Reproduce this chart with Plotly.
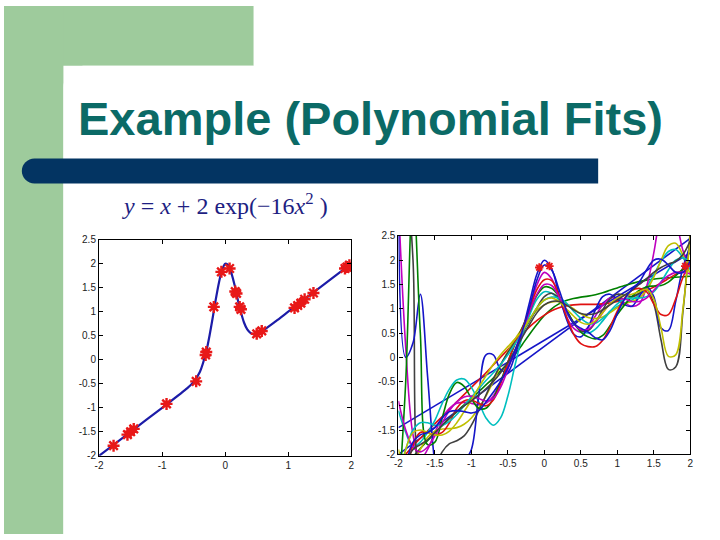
import plotly.graph_objects as go

W, H = 720, 540

# ---------------- data: left panel ----------------
true_x = [-2, -1.5, -1, -0.6, -0.5, -0.4, -0.3, -0.25, -0.2, -0.15, -0.1, -0.05, 0,
          0.05, 0.1, 0.15, 0.2, 0.25, 0.3, 0.35, 0.4, 0.45, 0.5, 0.6, 0.8, 1, 1.5, 2]
true_y = [-2, -1.5, -1, -0.59, -0.46, -0.25, 0.17, 0.49, 0.86, 1.25, 1.60, 1.87, 2.0,
          1.97, 1.80, 1.55, 1.25, 0.99, 0.77, 0.63, 0.56, 0.53, 0.54, 0.61, 0.80, 1.0, 1.5, 2.0]

sample_x = [-1.77, -1.55, -1.50, -1.45, -0.93, -0.46, -0.31, -0.30, -0.18, -0.06, 0.07, 0.16,
            0.18, 0.23, 0.25, 0.50, 0.58, 1.10, 1.15, 1.20, 1.26, 1.40, 1.90, 1.93, 1.97]
sample_y = [-1.79, -1.56, -1.50, -1.44, -0.92, -0.45, 0.10, 0.16, 1.10, 1.83, 1.90, 1.42,
            1.38, 1.10, 1.05, 0.54, 0.60, 1.08, 1.13, 1.18, 1.26, 1.39, 1.90, 1.93, 1.97]

# ---------------- data: right panel ----------------
line_x = [-2, 2]
line_a_y = [-1.45, 2.15]
line_b_y = [-2.0, 2.45]

fit_x = [-2.0, -1.9, -1.8, -1.7, -1.6, -1.5, -1.4, -1.3, -1.2, -1.1, -1.0, -0.9, -0.8, -0.7,
         -0.6, -0.5, -0.4, -0.3, -0.2, -0.1, 0.0, 0.1, 0.2, 0.3, 0.4, 0.5, 0.6, 0.7, 0.8, 0.9,
         1.0, 1.1, 1.2, 1.3, 1.4, 1.5, 1.6, 1.7, 1.8, 1.9, 2.0]

fit_green_1 = [-2.40, -2.22, -2.05, -1.88, -1.72, -1.56, -1.41, -1.26, -1.12, -0.98, -0.85, -0.71,
               -0.57, -0.43, -0.28, -0.12, 0.06, 0.27, 0.48, 0.68, 0.86, 1.00, 1.10, 1.17, 1.21,
               1.24, 1.26, 1.29, 1.33, 1.38, 1.43, 1.48, 1.52, 1.56, 1.59, 1.61, 1.63, 1.64, 1.65,
               1.66, 1.67]
fit_red_1 = [-2.20, -2.00, -1.83, -1.67, -1.52, -1.37, -1.22, -1.07, -0.92, -0.77, -0.62, -0.47,
             -0.32, -0.16, 0.00, 0.16, 0.32, 0.48, 0.63, 0.76, 0.87, 0.96, 1.02, 1.06, 1.08, 1.09,
             1.09, 1.09, 1.10, 1.12, 1.15, 1.19, 1.24, 1.30, 1.37, 1.45, 1.53, 1.62, 1.71, 1.80, 1.90]
fit_cyan_1 = [-1.10, -1.55, -1.85, -1.75, -1.55, -1.30, -0.95, -0.65, -0.47, -0.45, -0.62, -0.92,
              -1.25, -1.40, -1.25, -0.80, -0.15, 0.45, 0.88, 1.20, 1.35, 1.32, 1.18, 0.92, 0.70,
              0.55, 0.50, 0.58, 0.75, 0.93, 1.05, 1.12, 1.18, 1.28, 1.45, 1.70, 1.98, 2.18, 2.22,
              2.05, 1.80]
fit_magenta_1 = [3.20, 0.20, -1.60, -2.10, -1.90, -1.55, -1.25, -1.05, -0.95, -0.93, -0.95, -0.98,
                 -0.95, -0.80, -0.50, -0.18, 0.12, 0.52, 1.00, 1.50, 1.75, 1.62, 1.25, 0.85, 0.60,
                 0.52, 0.62, 0.85, 1.08, 1.22, 1.22, 1.12, 1.05, 1.10, 1.45, 2.15, 3.00, 3.40,
                 2.90, 2.20, 1.85]
fit_yellow_1 = [-1.90, -2.30, -2.20, -1.90, -1.65, -1.52, -1.48, -1.47, -1.45, -1.38, -1.25, -1.05,
                -0.80, -0.50, -0.18, 0.12, 0.38, 0.60, 0.80, 0.97, 1.08, 1.14, 1.15, 1.10, 1.00,
                0.90, 0.82, 0.80, 0.83, 0.92, 1.02, 1.10, 1.15, 1.22, 1.38, 1.65, 2.00, 2.30, 2.35,
                2.10, 1.70]
fit_gray_1 = [5.00, 4.00, 2.00, -2.60, -2.80, -2.30, -1.95, -1.78, -1.72, -1.62, -1.40, -1.10,
              -0.78, -0.45, -0.15, 0.10, 0.32, 0.52, 0.75, 1.02, 1.25, 1.32, 1.22, 0.98, 0.72,
              0.55, 0.55, 0.72, 0.98, 1.20, 1.30, 1.28, 1.25, 1.32, 1.40, 1.10, 0.35, -0.25, -0.20,
              0.95, 2.60]
fit_blue_2 = [3.50, 0.00, 0.30, 1.30, -0.40, -2.20, -3.00, -2.80, -2.30, -2.15, -1.90, -0.80,
              0.05, 0.05, -0.25, -0.30, 0.05, 0.55, 1.15, 1.72, 2.00, 1.82, 1.30, 0.80, 0.48,
              0.42, 0.62, 0.98, 1.25, 1.30, 1.20, 1.08, 1.05, 1.25, 1.45, 1.25, 0.60, 0.55, 1.15,
              1.85, 2.30]
fit_green_2 = [-3.00, -0.50, 3.50, 0.50, -1.80, -1.75, -1.25, -0.75, -0.52, -0.60, -0.85, -1.05,
               -1.05, -0.85, -0.50, -0.10, 0.28, 0.62, 0.95, 1.28, 1.45, 1.42, 1.25, 0.98, 0.72,
               0.52, 0.42, 0.38, 0.45, 0.65, 0.88, 1.08, 1.25, 1.38, 1.45, 1.47, 1.48, 1.55, 1.68,
               1.82, 1.95]
fit_red_2 = [-4.00, -2.60, -1.80, -1.55, -1.55, -1.60, -1.55, -1.35, -1.05, -0.90, -0.88, -0.95,
             -1.00, -0.88, -0.55, -0.10, 0.30, 0.60, 1.00, 1.40, 1.60, 1.58, 1.28, 0.85, 0.48,
             0.28, 0.22, 0.22, 0.35, 0.62, 0.95, 1.22, 1.38, 1.42, 1.35, 1.10, 0.88, 0.88, 1.20,
             1.65, 1.95]
fit_cyan_2 = [-2.50, -1.90, -1.50, -1.35, -1.35, -1.40, -1.40, -1.32, -1.18, -1.00, -0.82, -0.65,
              -0.48, -0.32, -0.15, 0.05, 0.28, 0.52, 0.78, 1.02, 1.18, 1.24, 1.22, 1.12, 0.95,
              0.80, 0.70, 0.70, 0.80, 0.95, 1.10, 1.20, 1.22, 1.22, 1.25, 1.35, 1.55, 1.80, 2.00,
              2.05, 1.95]
fit_magenta_2 = [-0.90, -1.50, -1.85, -1.95, -1.85, -1.62, -1.35, -1.10, -0.92, -0.82, -0.80, -0.85,
                 -0.90, -0.85, -0.62, -0.25, 0.15, 0.55, 0.95, 1.30, 1.50, 1.48, 1.25, 0.95, 0.70,
                 0.57, 0.58, 0.72, 0.92, 1.10, 1.20, 1.20, 1.15, 1.15, 1.22, 1.38, 1.55, 1.68, 1.75,
                 1.75, 1.72]
fit_yellow_2 = [-2.80, -1.90, -1.55, -1.50, -1.55, -1.60, -1.60, -1.52, -1.35, -1.12, -0.88, -0.62,
                -0.38, -0.15, 0.05, 0.22, 0.38, 0.55, 0.78, 1.02, 1.18, 1.22, 1.15, 1.00, 0.85,
                0.72, 0.68, 0.75, 0.92, 1.10, 1.22, 1.28, 1.30, 1.35, 1.40, 1.20, 0.60, 0.02, 0.05,
                1.00, 2.50]
fit_gray_2 = [-3.00, -2.20, -1.90, -1.80, -1.70, -1.55, -1.40, -1.25, -1.12, -1.00, -0.90, -0.78,
              -0.65, -0.50, -0.32, -0.10, 0.15, 0.42, 0.68, 0.92, 1.08, 1.15, 1.15, 1.08, 0.98,
              0.90, 0.88, 0.90, 0.98, 1.08, 1.18, 1.28, 1.38, 1.50, 1.62, 1.75, 1.85, 1.92, 1.98,
              2.12, 2.40]
fit_blue_3 = [-2.60, -2.20, -1.75, -1.60, -1.55, -1.45, -1.25, -1.12, -1.10, -1.12, -1.15, -1.10,
              -0.92, -0.72, -0.50, -0.22, 0.15, 0.55, 1.05, 1.60, 1.90, 1.80, 1.40, 0.98, 0.70,
              0.60, 0.52, 0.40, 0.36, 0.55, 0.90, 1.20, 1.40, 1.55, 1.80, 2.00, 2.02, 1.90, 1.75,
              1.75, 2.00]

right_star_x = [-0.07, 0.07, 1.93]
right_star_y = [1.85, 1.88, 1.88]

y_ticks = [2.5, 2, 1.5, 1, 0.5, 0, -0.5, -1, -1.5, -2]
y_tick_text = ["2.5", "2", "1.5", "1", "0.5", "0", "-0.5", "-1", "-1.5", "-2"]
xl_ticks = [-2, -1, 0, 1, 2]
xl_tick_text = ["-2", "-1", "0", "1", "2"]
xr_ticks = [-2, -1.5, -1, -0.5, 0, 0.5, 1, 1.5, 2]
xr_tick_text = ["-2", "-1.5", "-1", "-0.5", "0", "0.5", "1", "1.5", "2"]

# ---------------- colours ----------------
BLUE = "#1515c8"
GREEN = "#008000"
RED = "#e01010"
CYAN = "#00bfbf"
MAGENTA = "#bf00bf"
YELLOW = "#bfbf00"
GRAY = "#404040"

fig = go.Figure()

# left panel
fig.add_trace(go.Scatter(x=true_x, y=true_y, mode="lines", xaxis="x", yaxis="y",
                         line=dict(color="#1c1ca8", width=2.2, shape="spline", smoothing=0.7),
                         showlegend=False, hoverinfo="skip"))
fig.add_trace(go.Scatter(x=sample_x, y=sample_y, mode="markers", xaxis="x", yaxis="y",
                         marker=dict(symbol="asterisk-open", size=10, color="#e81818",
                                     line=dict(color="#e81818", width=2.4)),
                         showlegend=False, hoverinfo="skip"))

# right panel
fits = [
    (fit_green_1, GREEN), (fit_red_1, RED), (fit_cyan_1, CYAN), (fit_magenta_1, MAGENTA),
    (fit_yellow_1, YELLOW), (fit_gray_1, GRAY), (fit_blue_2, BLUE), (fit_green_2, GREEN),
    (fit_red_2, RED), (fit_cyan_2, CYAN), (fit_magenta_2, MAGENTA), (fit_yellow_2, YELLOW),
    (fit_gray_2, GRAY), (fit_blue_3, BLUE),
]
for ys, col in [(line_a_y, BLUE), (line_b_y, BLUE)]:
    fig.add_trace(go.Scatter(x=line_x, y=ys, mode="lines", xaxis="x2", yaxis="y2",
                             line=dict(color=col, width=1.6), showlegend=False, hoverinfo="skip"))
for ys, col in fits:
    fig.add_trace(go.Scatter(x=fit_x, y=ys, mode="lines", xaxis="x2", yaxis="y2",
                             line=dict(color=col, width=1.6, shape="spline", smoothing=1.0),
                             showlegend=False, hoverinfo="skip"))
fig.add_trace(go.Scatter(x=right_star_x, y=right_star_y, mode="markers", xaxis="x2", yaxis="y2",
                         marker=dict(symbol="asterisk-open", size=7, color="#e81818",
                                     line=dict(color="#e81818", width=1.8)),
                         showlegend=False, hoverinfo="skip"))


def px(x):
    return x / W


def py(y):
    return 1 - y / H


axis_common = dict(showline=True, linecolor="black", linewidth=1.2, mirror="ticks",
                   ticks="inside", ticklen=4, tickcolor="black", showgrid=False,
                   zeroline=False, tickfont=dict(family="Liberation Sans, Arial", size=10,
                                                 color="#222222"), fixedrange=True)

fig.update_layout(
    width=W, height=H, margin=dict(l=0, r=0, t=0, b=0),
    paper_bgcolor="white", plot_bgcolor="white",
    xaxis=dict(domain=[px(96), px(350.7)], range=[-2, 2], tickvals=xl_ticks,
               ticktext=xl_tick_text, anchor="y", **axis_common),
    yaxis=dict(domain=[py(460), py(239)], range=[-2, 2.5], tickvals=y_ticks,
               ticktext=y_tick_text, anchor="x", **axis_common),
    xaxis2=dict(domain=[px(398.3), px(693)], range=[-2, 2], tickvals=xr_ticks,
                ticktext=xr_tick_text, anchor="y2", **axis_common),
    yaxis2=dict(domain=[py(458.5), py(235.2)], range=[-2, 2.5], tickvals=y_ticks,
                ticktext=y_tick_text, anchor="x2", **axis_common),
)

GREEN_BG = "#9ecb9c"
shapes = [
    dict(type="rect", xref="paper", yref="paper", x0=0, x1=px(252), y0=py(61), y1=1,
         fillcolor=GREEN_BG, line=dict(width=0), layer="below"),
    dict(type="rect", xref="paper", yref="paper", x0=0, x1=px(60), y0=0, y1=1,
         fillcolor=GREEN_BG, line=dict(width=0), layer="below"),
]
# white panel with rounded top-left corner
r = 22
k = 0.5523 * r
path = (f"M {px(60)},{py(540)} L {px(60)},{py(61 + r)} "
        f"C {px(60)},{py(61 + r - k)} {px(60 + r - k)},{py(61)} {px(60 + r)},{py(61)} "
        f"L {px(252)},{py(61)} L {px(252)},{py(540)} Z")
shapes.append(dict(type="path", xref="paper", yref="paper", path=path,
                   fillcolor="white", line=dict(width=0), layer="below"))
# dark blue bar with rounded left end
t, b = 156, 181.5
rr = (b - t) / 2
kk = 0.5523 * rr
xl = 18
bar = (f"M {px(600)},{py(t)} L {px(xl + rr)},{py(t)} "
       f"C {px(xl + rr - kk)},{py(t)} {px(xl)},{py(t + rr - kk)} {px(xl)},{py(t + rr)} "
       f"C {px(xl)},{py(t + rr + kk)} {px(xl + rr - kk)},{py(b)} {px(xl + rr)},{py(b)} "
       f"L {px(600)},{py(b)} Z")
shapes.append(dict(type="path", xref="paper", yref="paper", path=bar,
                   fillcolor="#033462", line=dict(width=0), layer="below"))
fig.update_layout(shapes=shapes)

fig.add_annotation(x=px(73), y=py(115), xref="paper", yref="paper", xanchor="left",
                   yanchor="middle", showarrow=False,
                   text="<b>Example (Polynomial Fits)</b>",
                   font=dict(family="Liberation Sans, Arial", size=47, color="#0b6a66"))
fig.add_annotation(x=px(117), y=py(203), xref="paper", yref="paper", xanchor="left",
                   yanchor="middle", showarrow=False,
                   text="<i>y</i> = <i>x</i> + 2 exp(\u221216<i>x</i><sup>2</sup> )",
                   font=dict(family="Liberation Serif, Times New Roman", size=24,
                             color="#1e1e82"))

fig.write_html(
    "out.html",
    config={"displayModeBar": False},
    post_script="document.body.style.margin='0';document.body.style.overflow='hidden';",
)
